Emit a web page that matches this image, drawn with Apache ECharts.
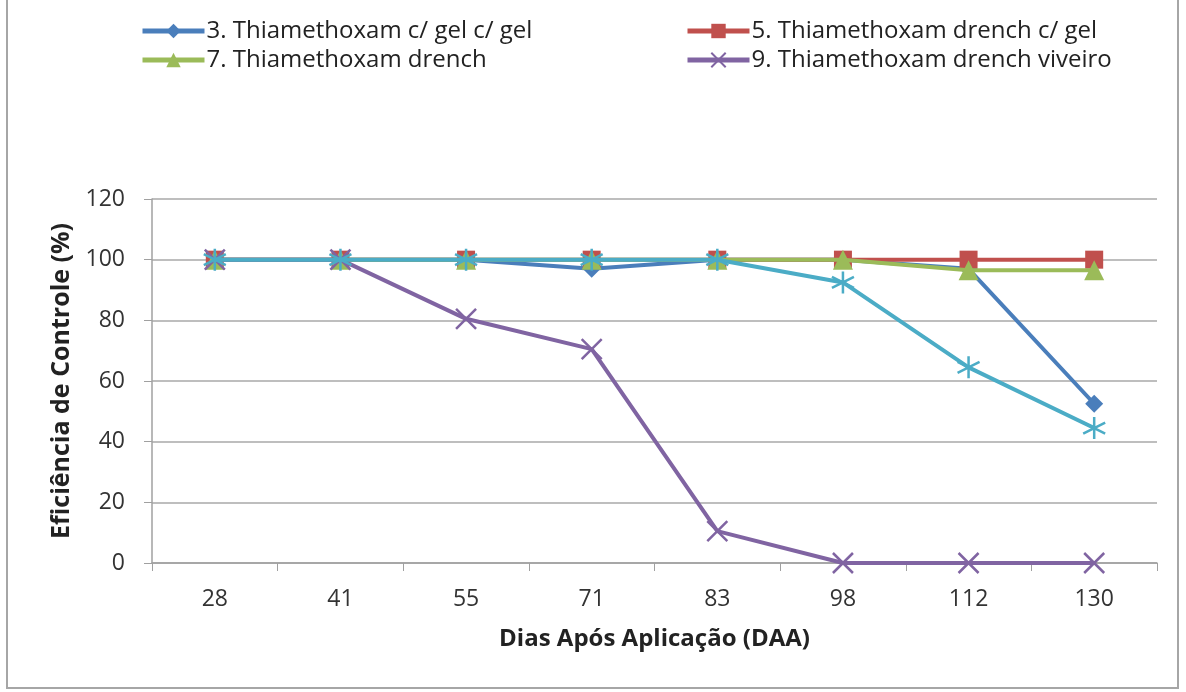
<!DOCTYPE html>
<html>
<head>
<meta charset="utf-8">
<script src="https://cdn.jsdelivr.net/npm/echarts@6/dist/echarts.min.js"></script>
<style>
  html, body { margin: 0; padding: 0; background: #fff; }
  #chart { width: 1186px; height: 692px; }
</style>
</head>
<body>
<div id="chart"></div>
<script>
// Days after application (x categories)
const days = ['28', '41', '55', '71', '83', '98', '112', '130'];
const yTicks = [0, 20, 40, 60, 80, 100, 120];

// Control efficiency (%) per treatment
const trt3 = [100, 100, 100, 97, 100, 100, 97, 52.5];
const trt5 = [100, 100, 100, 100, 100, 100, 100, 100];
const trt7 = [100, 100, 100, 100, 100, 100, 96.5, 96.5];
const trt9 = [100, 100, 80.5, 70.5, 10.5, 0, 0, 0];
const trtExtra = [100, 100, 100, 100, 100, 92.5, 64.5, 44.5];

const names = [
  '3. Thiamethoxam c/ gel c/ gel',
  '5. Thiamethoxam drench c/ gel',
  '7. Thiamethoxam drench',
  '9. Thiamethoxam drench viveiro',
  '11'
];
const colors = ['#4A7EBB', '#C0504D', '#9BBB59', '#8064A2', '#4BACC6'];

const FONT = 'Open Sans';
const xSym = 'path://M0,0L10,10M10,0L0,10';
const starSym = 'path://M5,0L5,10M0.7,2.5L9.3,7.5M0.7,7.5L9.3,2.5';

function mkSeries(i, data, symbol, size, stroke) {
  return {
    name: names[i],
    type: 'line',
    data: data,
    symbol: symbol,
    symbolSize: size,
    showAllSymbol: true,
    lineStyle: { color: colors[i], width: 4 },
    itemStyle: stroke
      ? { color: 'rgba(0,0,0,0)', borderColor: colors[i], borderWidth: 2.5 }
      : { color: colors[i] },
    emphasis: { disabled: true },
    z: 2 + i
  };
}

function mkLegend(name, left, top) {
  return {
    data: [name],
    left: left,
    top: top,
    itemWidth: 62,
    itemHeight: 18,
    itemGap: 2,
    padding: 0,
    selectedMode: false,
    lineStyle: { width: 5 },
    textStyle: { fontFamily: FONT, fontSize: 24, color: '#222', padding: [0, 0, 0, -3] }
  };
}

const chart = echarts.init(document.getElementById('chart'), null, { renderer: 'canvas' });
chart.setOption({
  animation: false,
  backgroundColor: '#fff',
  graphic: [{
    type: 'rect',
    shape: { x: 7, y: -3, width: 1171, height: 691 },
    style: { fill: 'none', stroke: '#a6a6a6', lineWidth: 2 },
    silent: true
  }],
  legend: [
    mkLegend(names[0], 140, 19),
    mkLegend(names[1], 685, 19),
    mkLegend(names[2], 140, 48),
    mkLegend(names[3], 685, 48)
  ],
  grid: { left: 152, right: 29, top: 199, bottom: 129 },
  xAxis: {
    type: 'category',
    data: days,
    boundaryGap: true,
    name: 'Dias Após Aplicação (DAA)',
    nameLocation: 'middle',
    nameGap: 64,
    nameTextStyle: { fontFamily: FONT, fontSize: 24, fontWeight: 'bold', color: '#222' },
    axisLine: { lineStyle: { color: '#a0a0a0', width: 1.5 } },
    axisTick: { show: true, alignWithLabel: false, length: 8, lineStyle: { color: '#a0a0a0' } },
    axisLabel: { fontFamily: FONT, fontSize: 23, color: '#333', margin: 25 },
    splitLine: { show: false }
  },
  yAxis: {
    type: 'value',
    min: 0,
    max: 120,
    interval: 20,
    name: 'Eficiência de Controle (%)',
    nameLocation: 'middle',
    nameGap: 78,
    nameRotate: 90,
    nameTextStyle: { fontFamily: FONT, fontSize: 25, fontWeight: 'bold', color: '#222' },
    axisLine: { show: true, lineStyle: { color: '#a0a0a0', width: 1.5 } },
    axisTick: { show: true, inside: false, length: 8, lineStyle: { color: '#a0a0a0' } },
    axisLabel: {
      fontFamily: FONT, fontSize: 23, color: '#333', margin: 27,
      formatter: v => (yTicks.indexOf(v) >= 0 ? String(v) : '')
    },
    splitLine: { show: true, lineStyle: { color: '#a8a8a8', width: 1.5 } }
  },
  series: [
    mkSeries(0, trt3, 'diamond', 18, false),
    mkSeries(1, trt5, 'rect', 18, false),
    mkSeries(2, trt7, 'triangle', 20, false),
    mkSeries(3, trt9, xSym, 20, true),
    mkSeries(4, trtExtra, starSym, 22, true)
  ]
});
</script>
</body>
</html>
